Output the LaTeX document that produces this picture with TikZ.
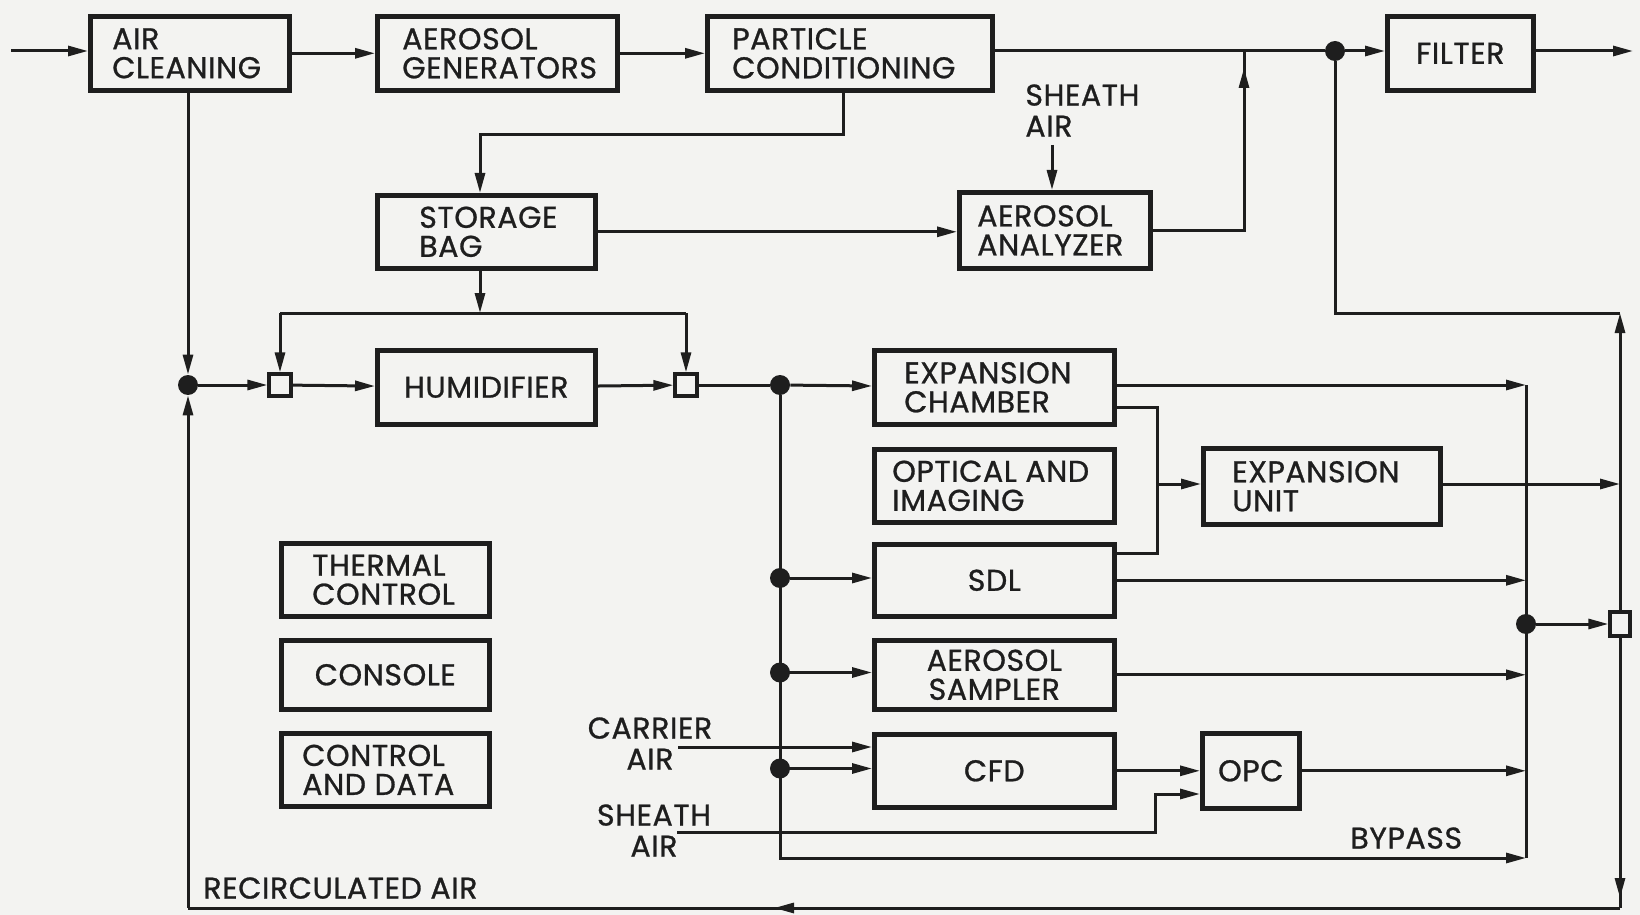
\documentclass[tikz,border=0pt]{standalone}
\usepackage{fontspec}
\setmainfont{Poppins}[FakeBold=0.9,LetterSpace=2]
\usetikzlibrary{arrows.meta,decorations.markings,calc}
\definecolor{paper}{RGB}{243,243,241}
\definecolor{ink}{RGB}{30,30,30}
\begin{document}
\begin{tikzpicture}[x=0.5pt,y=-0.5pt,color=ink,
  font=\fontsize{15pt}{14.5pt}\selectfont,
  box/.style={draw=ink,line width=2.3pt,rectangle,inner sep=0pt,anchor=north west,text=ink},
  ln/.style={draw=ink,line width=1.5pt},
  tip/.style={-{Triangle[length=10pt,width=5pt]}},
  arr/.style={ln,tip},
  dot/.style={circle,fill=ink,inner sep=0pt,minimum size=10pt},
  sq/.style={rectangle,draw=ink,fill=paper,line width=1.6pt,inner sep=0pt,minimum size=11pt},
  lbl/.style={text=ink,inner sep=0pt,font=\fontsize{15pt}{15.5pt}\selectfont},
  markarr/.style={postaction={decorate},decoration={markings,mark=at position #1 with {\arrow{Triangle[length=10pt,width=5pt]}}}}
]
\fill[paper] (0,0) rectangle (1640,915);
\useasboundingbox (0,0) rectangle (1640,915);

% boxes
\node[box,minimum width=99.5pt,minimum height=37pt] (ac) at (88,14) {\parbox{77.5pt}{\raggedright AIR\\CLEANING}};
\node[box,minimum width=120pt,minimum height=37pt] (ag) at (375,14) {\parbox{95pt}{\raggedright AEROSOL\\GENERATORS}};
\node[box,minimum width=142.5pt,minimum height=37pt] (pc) at (705,14) {\parbox{117.5pt}{\raggedright PARTICLE\\CONDITIONING}};
\node[box,minimum width=73pt,minimum height=37pt] (fil) at (1385,14) {FILTER};
\node[box,minimum width=109pt,minimum height=36.5pt] (sb) at (375,193) {\parbox{67pt}{\raggedright STORAGE\\BAG}};
\node[box,minimum width=95.5pt,minimum height=38pt] (aa) at (957,190) {\parbox{77.5pt}{\raggedright AEROSOL\\ANALYZER}};
\node[box,minimum width=109pt,minimum height=37pt] (hum) at (375,348) {HUMIDIFIER};
\node[box,minimum width=120pt,minimum height=37pt] (ec) at (872,348) {\parbox{90pt}{\raggedright EXPANSION\\CHAMBER}};
\node[box,minimum width=120pt,minimum height=36.5pt] (oi) at (872,447) {\parbox{102pt}{\raggedright OPTICAL AND\\IMAGING}};
\node[box,minimum width=118.5pt,minimum height=38pt] (eu) at (1201,446) {\parbox{89.5pt}{\raggedright EXPANSION\\UNIT}};
\node[box,minimum width=120pt,minimum height=36pt] (sdl) at (872,542) {SDL};
\node[box,minimum width=120pt,minimum height=34.5pt,align=center] (as) at (872,638) {AEROSOL\\SAMPLER};
\node[box,minimum width=120pt,minimum height=36.5pt] (cfd) at (872,732) {CFD};
\node[box,minimum width=48.5pt,minimum height=37.5pt] (opc) at (1200,731) {OPC};
\node[box,minimum width=104pt,minimum height=36.5pt] (tc) at (279,541) {\parbox{73pt}{\raggedright THERMAL\\CONTROL}};
\node[box,minimum width=104pt,minimum height=34.5pt] (con) at (279,638) {CONSOLE};
\node[box,minimum width=104pt,minimum height=36.5pt] (cad) at (279,731) {\parbox{83pt}{\raggedright CONTROL\\AND DATA}};

% junctions
\node[dot] (d1) at (1335,51) {};
\node[dot] (d2) at (188,385) {};
\node[dot] (d3) at (780,385) {};
\node[dot] (d5) at (780,578) {};
\node[dot] (d6) at (780,672.5) {};
\node[dot] (d7) at (780,768.5) {};
\node[dot] (d4) at (1526,624) {};
\node[sq] (s1) at (280,385) {};
\node[sq] (s2) at (686,385) {};
\node[sq,minimum width=10pt,minimum height=12pt] (s3) at (1620,624) {};

% free ends and corners
\coordinate (in) at (11,51);
\coordinate (out) at (1633,51);
\coordinate (pcd) at (843,135);
\coordinate (sbu) at (480,135);
\coordinate (hl) at (280,313);
\coordinate (hr) at (686,313);
\coordinate (hm) at (480,313);
\coordinate (aat) at (1244,51);
\coordinate (d1b) at (1335,313);
\coordinate (rt) at (1620,313);
\coordinate (rb) at (1620,908);
\coordinate (lb) at (188,908);
\coordinate (bp0) at (780,858);
\coordinate (bp1) at (1526,858);
\coordinate (c1) at (1526,385);
\coordinate (e1) at (1157,407);
\coordinate (e2) at (1157,553);
\coordinate (e3) at (1157,484);
\coordinate (ca) at (678,747);
\coordinate (sa0) at (677,832);
\coordinate (sa1) at (1155,832);
\coordinate (sa2) at (1155,794);
\coordinate (sht) at (1052,145);

% labels
\node[lbl,anchor=north west,align=left] (shtop) at (1025,84) {SHEATH\\AIR};
\node[lbl,anchor=north,align=center] (carrier) at (650,717) {CARRIER\\AIR};
\node[lbl,anchor=north,align=center] (shbot) at (654,804) {SHEATH\\AIR};
\node[lbl,anchor=north west] (recirc) at (203,877) {RECIRCULATED AIR};
\node[lbl,anchor=north west] (bypass) at (1350,827) {BYPASS};

% connectors
\draw[arr] (in) -- (in -| ac.west);
\draw[arr] (ac.east) -- (ac.east -| ag.west);
\draw[arr] (ag.east) -- (ag.east -| pc.west);
\draw[ln] (pc.east |- d1) -- (d1);
\draw[arr] (d1) -- (d1 -| fil.west);
\draw[arr] (fil.east |- out) -- (out);
\draw[arr] (pc.south -| pcd) -- (pcd) -- (sbu) -- (sb.north -| sbu);
\draw[arr] (sb.east) -- (sb.east -| aa.west);
\draw[arr] (sht) -- (sht |- aa.north);
\draw[ln,markarr=-8.5pt] (aa.east) -- (aa.east -| aat) -- (aat);
\draw[arr] (ac.south -| d2) -- (d2);
\draw[arr] (sb.south -| hm) -- (hm);
\draw[ln] (hl) -- (hr);
\draw[arr] (hl) -- (s1);
\draw[arr] (hr) -- (s2);
\draw[arr] (d2) -- (s1);
\draw[arr] (s1) -- (hum);
\draw[arr] (hum) -- (s2);
\draw[ln] (s2) -- (d3);
\draw[arr] (d3) -- (ec);
\draw[arr] (d3) -- (bp0) -- (bp1);
\draw[arr] (d5) -- (d5 -| sdl.west);
\draw[arr] (d6) -- (d6 -| as.west);
\draw[arr] (d7) -- (d7 -| cfd.west);
\draw[arr] (ca) -- (ca -| cfd.west);
\draw[arr] (sa0) -- (sa1) -- (sa2) -- (sa2 -| opc.west);
\draw[arr] (cfd) -- (opc);
\draw[arr] (ec.east |- c1) -- (c1);
\draw[ln] (c1) -- (bp1);
\draw[ln] (ec.east |- e1) -- (e1) -- (e2) -- (sdl.east |- e2);
\draw[arr] (e3) -- (e3 -| eu.west);
\draw[arr] (eu.east |- e3) -- (e3 -| rt);
\draw[arr] (sdl) -- (sdl -| c1);
\draw[arr] (as) -- (as -| c1);
\draw[arr] (opc) -- (opc -| c1);
\draw[arr] (d4) -- (s3);
\draw[arr] (s3) -- (rt);
\draw[ln] (rt) -- (d1b) -- (d1);
\draw[ln,markarr=-5pt] (s3) -- (rb);
\draw[ln,markarr=423pt] (rb) -- (lb);
\draw[arr] (lb) -- (d2);
\end{tikzpicture}
\end{document}
